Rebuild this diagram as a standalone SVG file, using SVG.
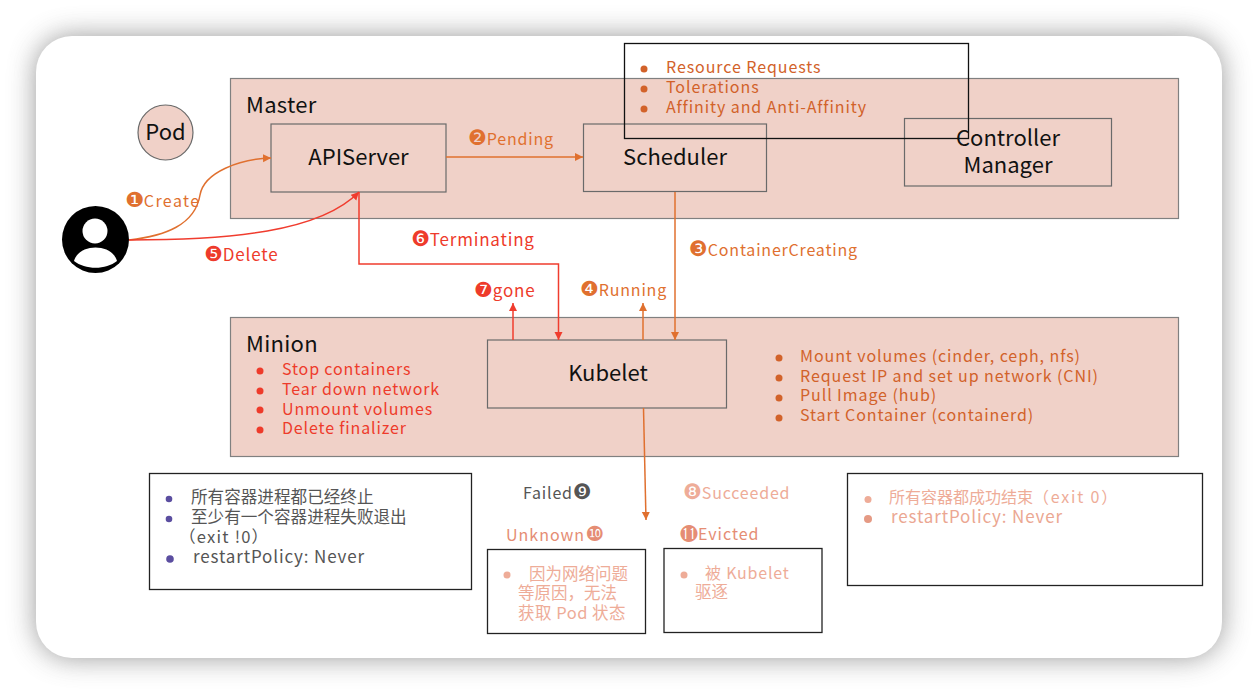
<svg xmlns="http://www.w3.org/2000/svg" width="1258" height="694" viewBox="0 0 1258 694">
<style>
text{font-family:"Noto Sans CJK SC","Noto Sans",sans-serif;}
.t{font-size:22px;fill:#111;text-anchor:middle}
.h{font-size:22px;fill:#111;letter-spacing:.3px}
.region{fill:#f0d1c8;stroke:#808080;stroke-width:1.2}
.box{fill:#f0d1c8;stroke:#6a6a6a;stroke-width:1.2}
.lb{fill:#fff;stroke:#222;stroke-width:1.3}
.or{font-size:16px;fill:#e0702f;letter-spacing:.8px}
.rd{font-size:17px;fill:#ee3b2b;letter-spacing:.8px}
.ob{font-size:16px;fill:#d2622a;letter-spacing:.92px}
.rb{font-size:16px;fill:#ee3b2b;letter-spacing:.85px}
.pu{font-size:16.600px;fill:#555}
.pe{font-size:17px;fill:#555;letter-spacing:.85px}
.pk{font-size:16.500px;fill:#eeac98}
.pl{font-size:16px;fill:#eeac98;letter-spacing:.8px}
.pr{font-size:17px;fill:#eba792;letter-spacing:.85px}
.uk{font-size:16px;fill:#e58d74;letter-spacing:1px}
.n{font-family:"DejaVu Sans",sans-serif;font-size:21px;letter-spacing:0}
.co{fill:none;stroke:#e0702f;stroke-width:1.5}
.cr{fill:none;stroke:#f03c2e;stroke-width:1.5}
</style>
<defs>
<filter id="sh" x="-10%" y="-15%" width="120%" height="130%"><feGaussianBlur stdDeviation="14"/></filter>
<marker id="ao" markerWidth="9" markerHeight="9" refX="8" refY="4" orient="auto" markerUnits="userSpaceOnUse"><path d="M0 0L8 4L0 8Z" fill="#e0702f"/></marker>
<marker id="ar" markerWidth="9" markerHeight="9" refX="8" refY="4" orient="auto" markerUnits="userSpaceOnUse"><path d="M0 0L8 4L0 8Z" fill="#f03c2e"/></marker>
</defs>
<rect width="1258" height="694" fill="#fff"/>
<rect x="36" y="36" width="1186" height="622" rx="36" fill="#777" opacity=".75" filter="url(#sh)"/>
<rect x="36" y="36" width="1186" height="622" rx="36" fill="#fff"/>

<g id="master"><rect class="region" x="230.500" y="78.500" width="948" height="140"/><text class="h" x="246" y="113">Master</text></g>
<g id="minion"><rect class="region" x="230.500" y="317.500" width="948" height="139"/><text class="h" x="246" y="352">Minion</text>
<g fill="#ee3b2b"><circle cx="260" cy="371" r="3.500"/><circle cx="260" cy="391" r="3.500"/><circle cx="260" cy="410" r="3.500"/><circle cx="260" cy="430" r="3.500"/></g>
<text class="rb" x="282" y="375">Stop containers</text><text class="rb" x="282" y="395">Tear down network</text><text class="rb" x="282" y="415">Unmount volumes</text><text class="rb" x="282" y="434">Delete finalizer</text>
<g fill="#d2622a"><circle cx="779" cy="358" r="3.500"/><circle cx="779" cy="378" r="3.500"/><circle cx="779" cy="398" r="3.500"/><circle cx="779" cy="418" r="3.500"/></g>
<text class="ob" x="800" y="362">Mount volumes (cinder, ceph, nfs)</text><text class="ob" x="800" y="382">Request IP and set up network (CNI)</text><text class="ob" x="800" y="401">Pull Image (hub)</text><text class="ob" x="800" y="421">Start Container (containerd)</text></g>
<g id="pod"><circle cx="165.500" cy="132.500" r="27.500" class="box"/><text class="t" x="165.500" y="140">Pod</text></g>
<g id="apiserver"><rect class="box" x="271" y="124" width="175" height="68"/><text class="t" x="358.500" y="165">APIServer</text></g>
<g id="scheduler"><rect class="box" x="583.500" y="124" width="183" height="67.500"/><text class="t" x="675" y="165">Scheduler</text></g>
<g id="controller"><rect class="box" x="904.500" y="118.500" width="207" height="67.500"/><text class="t" x="1008" y="146">Controller</text><text class="t" x="1008" y="173">Manager</text></g>
<g id="scheduler-notes"><rect x="624.500" y="43.500" width="344" height="95" fill="none" stroke="#111" stroke-width="1.300"/>
<g fill="#d2622a"><circle cx="644" cy="69" r="3.500"/><circle cx="644" cy="89" r="3.500"/><circle cx="644" cy="109" r="3.500"/></g>
<text class="ob" x="666" y="73">Resource Requests</text><text class="ob" x="666" y="93">Tolerations</text><text class="ob" x="666" y="113">Affinity and Anti-Affinity</text></g>
<g id="kubelet"><rect class="box" x="487.500" y="340" width="239" height="68"/><text class="t" x="608" y="381">Kubelet</text></g>
<g id="user"><circle cx="95.500" cy="239.500" r="33.500" fill="#000"/><circle cx="95" cy="231" r="12.500" fill="#fff"/><path d="M74 261C79 243 112 243 117 261C106 270 85 270 74 261Z" fill="#fff"/></g>

<g id="connectors">
<path class="co" d="M129 240C165 236 195 225 200 195C204 172 240 159 271 158" marker-end="url(#ao)"/>
<path class="cr" d="M129 240C230 240 320 232 359 192" marker-end="url(#ar)"/>
<path class="co" d="M446 157H583" marker-end="url(#ao)"/>
<path class="co" d="M675 192V340" marker-end="url(#ao)"/>
<path class="cr" d="M359 192V264H558.500V340" marker-end="url(#ar)"/>
<path class="cr" d="M513 340V303" marker-end="url(#ar)"/>
<path class="co" d="M643 340V303" marker-end="url(#ao)"/>
<path class="co" d="M643.500 408L646 520" marker-end="url(#ao)"/>
</g>

<g id="labels">
<text class="or" x="125" y="207" style="letter-spacing:1.400px"><tspan class="n">❶</tspan>Create</text>
<text class="or" x="468" y="145"><tspan class="n">❷</tspan>Pending</text>
<text class="or" x="689" y="256"><tspan class="n">❸</tspan>ContainerCreating</text>
<text class="or" x="580" y="296"><tspan class="n">❹</tspan>Running</text>
<text class="rd" x="204" y="261"><tspan class="n">❺</tspan>Delete</text>
<text class="rd" x="411" y="246"><tspan class="n">❻</tspan>Terminating</text>
<text class="rd" x="474" y="297"><tspan class="n">❼</tspan>gone</text>
<text class="pe" x="523" y="499" style="font-size:16px;letter-spacing:.8px">Failed<tspan class="n">❾</tspan></text>
<text class="pl" x="683" y="499"><tspan class="n">❽</tspan>Succeeded</text>
<text class="uk" x="506" y="541">Unknown<tspan class="n">❿</tspan></text>
<text class="uk" x="680" y="540"><tspan class="n" style="font-size:18px">⓫</tspan>Evicted</text>
</g>

<g id="failed-box"><rect class="lb" x="149.500" y="473.500" width="322" height="116"/>
<g fill="#5b4ea0"><circle cx="169" cy="499" r="3.300"/><circle cx="169" cy="519" r="3.300"/><circle cx="170" cy="559" r="3.800"/></g>
<text class="pu" x="191" y="503">所有容器进程都已经终止</text><text class="pu" x="191" y="523">至少有一个容器进程失败退出</text><text class="pu" x="179" y="543" style="letter-spacing:1.200px">（exit !0）</text><text class="pe" x="193" y="563">restartPolicy: Never</text></g>
<g id="unknown-box"><rect class="lb" x="487.500" y="549.500" width="158" height="84"/><circle cx="507" cy="575" r="3.500" fill="#eeac98"/>
<text class="pk" x="529" y="580">因为网络问题</text><text class="pk" x="518" y="599">等原因，无法</text><text class="pk" x="518" y="619" style="letter-spacing:.5px">获取 Pod 状态</text></g>
<g id="evicted-box"><rect class="lb" x="664" y="548.500" width="158" height="84"/><circle cx="684" cy="575" r="3.500" fill="#eeac98"/>
<text class="pl" x="705" y="579">被 Kubelet</text><text class="pk" x="695" y="598">驱逐</text></g>
<g id="succeeded-box"><rect class="lb" x="847.500" y="473.500" width="355" height="112"/><circle cx="868" cy="499.500" r="3.500" fill="#eeac98"/><circle cx="868" cy="519" r="4" fill="#e59a84"/>
<text class="pk" x="889" y="503" style="font-size:16px">所有容器都成功结束<tspan style="letter-spacing:1.800px">（exit 0）</tspan></text><text class="pr" x="891" y="523">restartPolicy: Never</text></g>
</svg>
